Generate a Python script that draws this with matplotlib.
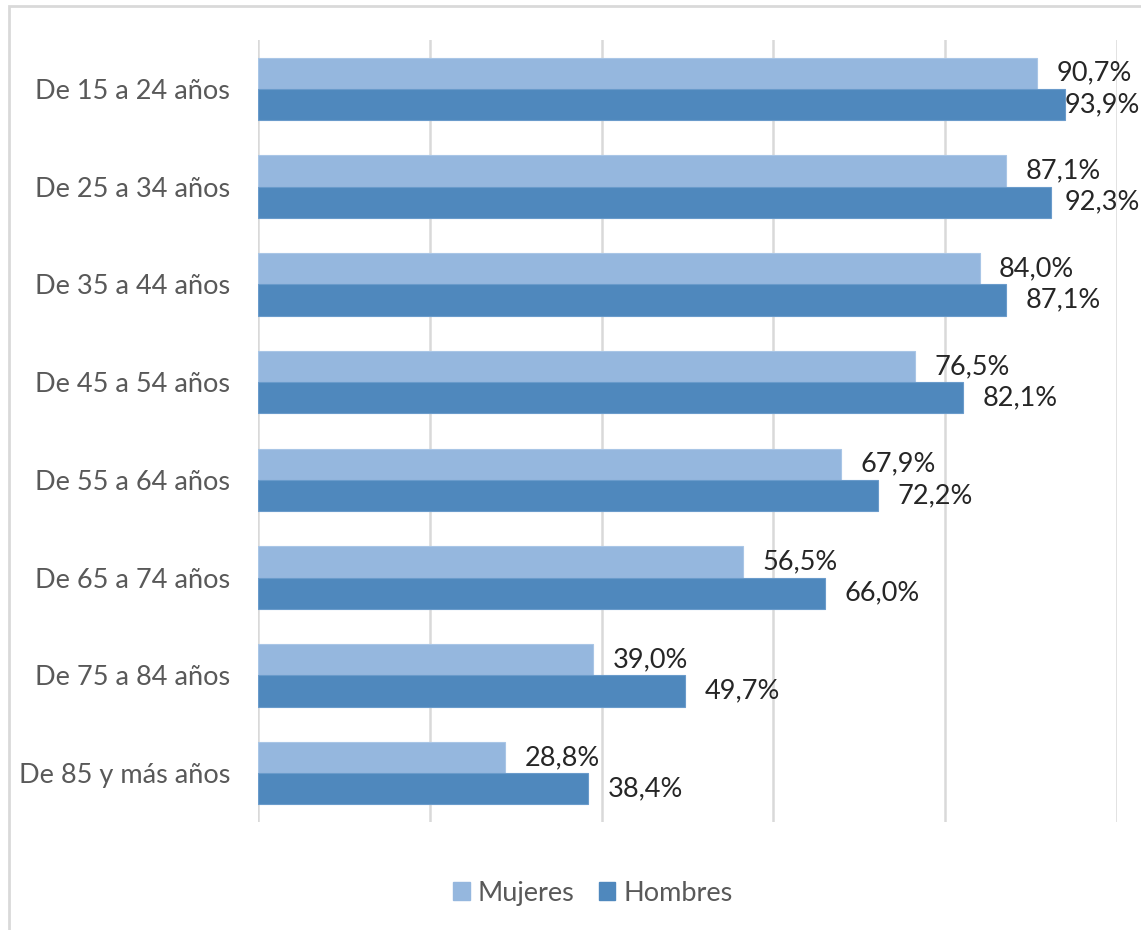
import matplotlib
matplotlib.use("Agg")
import matplotlib.pyplot as plt
from matplotlib.patches import Rectangle, Patch
import numpy as np

categories = ["De 15 a 24 años", "De 25 a 34 años", "De 35 a 44 años", "De 45 a 54 años",
              "De 55 a 64 años", "De 65 a 74 años", "De 75 a 84 años", "De 85 y más años"]
mujeres = [90.7, 87.1, 84.0, 76.5, 67.9, 56.5, 39.0, 28.8]
hombres = [93.9, 92.3, 87.1, 82.1, 72.2, 66.0, 49.7, 38.4]
series_names = ["Mujeres", "Hombres"]

c_muj = "#95B7DE"
c_hom = "#4F88BD"
FONT = ["Lato", "DejaVu Sans"]
plt.rcParams['font.family'] = FONT

W, H = 1141, 930
fig = plt.figure(figsize=(W / 100, H / 100), dpi=100)
ax = fig.add_axes([258 / W, 1 - 822 / H, 859 / W, 782 / H])

y = np.arange(len(categories))
bh = 0.32
ax.barh(y - bh / 2, mujeres, height=bh, color=c_muj, edgecolor="#A9C6E6", linewidth=0.8, zorder=3)
ax.barh(y + bh / 2, hombres, height=bh, color=c_hom, edgecolor="#6A9BCB", linewidth=0.8, zorder=3)

ax.set_xlim(0, 100)
ax.set_ylim(len(categories) - 0.5, -0.5)
ax.set_xticks([0, 20, 40, 60, 80, 100])
ax.set_xticklabels([])
ax.tick_params(axis='x', length=0)
ax.tick_params(axis='y', length=0, pad=20, labelsize=19.5, labelcolor="#595959")
ax.set_yticks(y)
ax.set_yticklabels(categories)
ax.grid(axis='x', color="#D9D9D9", linewidth=1.8, zorder=0)
for s in ax.spines.values():
    s.set_visible(False)

def fmt(v):
    return f"{v:.1f}".replace(".", ",") + "%"

texts = []
for vals, off in ((mujeres, -bh / 2), (hombres, bh / 2)):
    for i, v in enumerate(vals):
        t = ax.annotate(fmt(v), (v, i + off), xytext=(14, 0), textcoords="offset points",
                        ha="left", va="center", fontsize=19.5, color="#262626", zorder=4,
                        annotation_clip=False)
        texts.append(t)

fig.canvas.draw()
r = fig.canvas.get_renderer()
for t in texts:
    bb = t.get_window_extent(r)
    if bb.x1 > W - 1:
        dx_pts = (bb.x1 - (W - 1)) * 72 / 100
        x0, y0 = t.xyann
        t.xyann = (x0 - dx_pts, y0)

handles = [Patch(facecolor=c_muj, edgecolor=c_muj), Patch(facecolor=c_hom, edgecolor=c_hom)]
fig.legend(handles, series_names, loc="center", bbox_to_anchor=(593 / W, 1 - 893 / H),
           ncol=2, frameon=False, fontsize=19.5, handlelength=0.6, handleheight=0.6,
           handletextpad=0.3, columnspacing=0.9, labelcolor="#595959")

fig.patches.append(Rectangle((9 / W, -0.05), 1.2, 1 - 6 / H + 0.05, transform=fig.transFigure,
                             fill=False, edgecolor="#D9D9D9", linewidth=2))

fig.savefig("out.png", dpi=100)
